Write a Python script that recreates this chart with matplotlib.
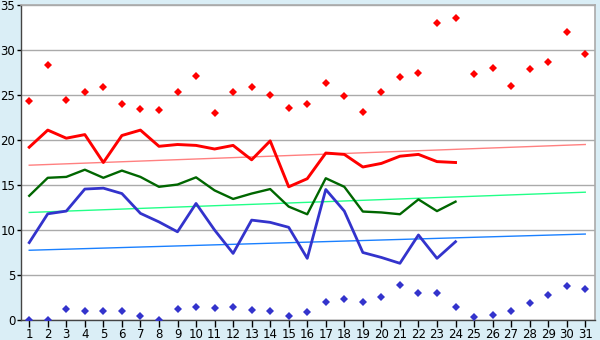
import numpy as np
import matplotlib
matplotlib.use("Agg")
import matplotlib.pyplot as plt

# daily values for the month
days = np.arange(1, 32)

max_points = [24.3, 28.3, 24.5, 25.3, 25.9, 24.0, 23.4, 23.3, 25.3, 27.1,
              23.0, 25.3, 25.9, 25.0, 23.6, 24.0, 26.3, 24.9, 23.1, 25.3,
              27.0, 27.5, 33.0, 33.5, 27.3, 28.0, 26.0, 27.9, 28.7, 32.0, 29.6]
min_points = [0.0, 0.0, 1.2, 1.0, 1.0, 1.0, 0.4, 0.0, 1.2, 1.4,
              1.3, 1.4, 1.1, 1.0, 0.5, 0.85, 2.0, 2.3, 2.0, 2.6,
              3.85, 3.0, 3.0, 1.4, 0.3, 0.6, 1.0, 1.85, 2.75, 3.75, 3.5]

# averaged curves, available for days 1-24
avg_days = np.arange(1, 25)
avg_max = [19.2, 21.1, 20.2, 20.6, 17.5, 20.5, 21.1, 19.3, 19.5, 19.4,
           19.0, 19.4, 17.8, 19.9, 14.8, 15.7, 18.55, 18.4, 17.0, 17.4,
           18.2, 18.4, 17.6, 17.5]
avg_mean = [13.8, 15.8, 15.9, 16.7, 15.8, 16.6, 15.9, 14.8, 15.05, 15.85,
            14.4, 13.45, 14.05, 14.55, 12.6, 11.75, 15.75, 14.8, 12.05, 11.95,
            11.75, 13.4, 12.1, 13.15]
avg_min = [8.6, 11.8, 12.1, 14.55, 14.65, 14.05, 11.85, 10.9, 9.8, 12.95,
           10.0, 7.4, 11.1, 10.85, 10.3, 6.85, 14.5, 12.1, 7.5, 6.95,
           6.3, 9.45, 6.85, 8.7]

# long-term trend lines (value on day 1 and day 31)
trend_days = [1, 31]
trend_max = [17.2, 19.5]
trend_mean = [11.95, 14.2]
trend_min = [7.75, 9.55]

fig = plt.figure(figsize=(6, 3.4), dpi=100, facecolor="#daeef6")
ax = fig.add_axes([0.0345, 0.0588, 0.957, 0.9265])
ax.set_facecolor("white")

ax.plot(trend_days, trend_max, color="#ff8080", lw=1.0, zorder=2)
ax.plot(trend_days, trend_mean, color="#22ff88", lw=1.0, zorder=2)
ax.plot(trend_days, trend_min, color="#1a80ff", lw=1.0, zorder=2)

ax.plot(avg_days, avg_max, color="#ff0000", lw=2.1, zorder=3)
ax.plot(avg_days, avg_mean, color="#006600", lw=1.7, zorder=3)
ax.plot(avg_days, avg_min, color="#3333cc", lw=2.0, zorder=3)

ax.plot(days, max_points, ls="none", marker="D", ms=4.0, mew=0, color="#ff0000", zorder=4)
ax.plot(days, min_points, ls="none", marker="D", ms=4.0, mew=0, color="#3333cc", zorder=4)

ax.set_xlim(0.54, 31.52)
ax.set_ylim(0, 35)
ax.set_xticks(days)
ax.set_yticks(np.arange(0, 36, 5))
ax.yaxis.grid(True, color="#aaaaaa", lw=1.0)
ax.set_axisbelow(True)

for side in ["top", "right"]:
    ax.spines[side].set_color("#aaaaaa")
    ax.spines[side].set_linewidth(1.2)
for side in ["left", "bottom"]:
    ax.spines[side].set_color("#444444")
    ax.spines[side].set_linewidth(1.0)

ax.tick_params(axis="x", length=5, width=1, pad=1, labelsize=8.5)
ax.tick_params(axis="y", length=3, width=1, pad=1, labelsize=8.5)

fig.savefig("out.png", dpi=100, facecolor=fig.get_facecolor())
